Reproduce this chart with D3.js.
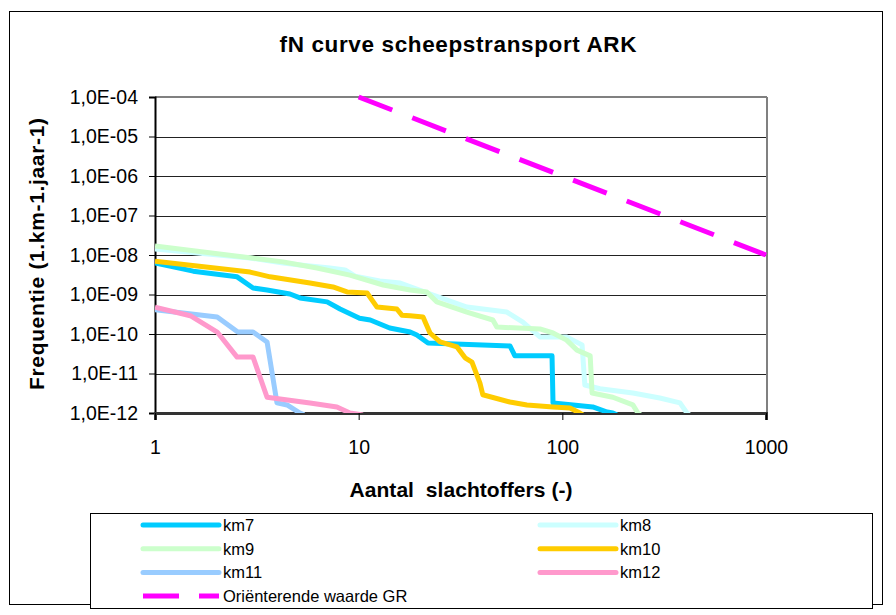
<!DOCTYPE html>
<html><head><meta charset="utf-8">
<script src="https://cdn.jsdelivr.net/npm/d3@7"></script>
<style>html,body{margin:0;padding:0;background:#fff}svg{display:block}text{font-family:Arial,"Liberation Sans",sans-serif;white-space:pre}</style>
</head><body>
<svg id="c" width="896" height="615"></svg>
<script>
const title = "fN curve scheepstransport ARK";
const xTitle = "Aantal  slachtoffers (-)";
const yTitle = "Frequentie (1.km-1.jaar-1)";
const xTicks = [1, 10, 100, 1000];
const yTicks = [1e-4, 1e-5, 1e-6, 1e-7, 1e-8, 1e-9, 1e-10, 1e-11, 1e-12];
const seriesNames = ["km7", "km8", "km9", "km10", "km11", "km12"];
const seriesColors = ["#00CCFF", "#CCFFFF", "#CCFFCC", "#FFCC00", "#99CCFF", "#FF99CC"];
const km7 = [[1,6.3e-9],[1.54,3.9e-9],[2.53,2.8e-9],[3.03,1.46e-9],[3.55,1.3e-9],[4.6,1.03e-9],[5.15,8.2e-10],[7.0,6.5e-10],[8.1,4.3e-10],[10.1,2.5e-10],[11.4,2.26e-10],[14.2,1.42e-10],[17.9,1.12e-10],[19.3,9.4e-11],[21.9,5.9e-11],[55.3,5.0e-11],[58.5,2.8e-11],[89,2.8e-11],[90,1.8e-12],[113,1.6e-12],[141,1.42e-12],[166,1.06e-12],[177,1e-12],[185,9e-13]];
const km8 = [[1,1.42e-8],[2.93,8.4e-9],[4.25,6.3e-9],[5.15,5.6e-9],[7.23,4.7e-9],[8.57,4.2e-9],[9.6,2.9e-9],[12.7,2.2e-9],[16,1.95e-9],[23.2,9.7e-10],[34,4.8e-10],[53.4,3.6e-10],[64,2.0e-10],[77.6,8.4e-11],[105,8.4e-11],[125,5.3e-11],[129,5.1e-12],[153,4.1e-12],[222,3.2e-12],[301,2.4e-12],[378,1.8e-12],[409,1e-12],[420,9e-13]];
const km9 = [[1,1.7e-8],[4.25,6.7e-9],[6.24,4.7e-9],[9.06,3.1e-9],[13.2,1.74e-9],[17.9,1.3e-9],[21.6,1.16e-9],[24.2,6.5e-10],[34,3.6e-10],[45.6,2.26e-10],[47.7,1.5e-10],[77.6,1.34e-10],[90,1.06e-10],[105,7e-11],[118,3.9e-11],[137,2.8e-11],[140,3.2e-12],[177,2.5e-12],[222,1.6e-12],[235,1e-12],[242,9e-13]];
const km10 = [[1,7.0e-9],[2.93,3.7e-9],[3.67,2.8e-9],[5.77,1.95e-9],[7.48,1.55e-9],[8.77,1.16e-9],[11,1.09e-9],[12.3,4.8e-10],[15.4,4.3e-10],[16.3,3.0e-10],[17.9,2.9e-10],[20.7,2.7e-10],[22.4,1.06e-10],[25.1,6.3e-11],[30.4,4.7e-11],[33.3,2.5e-11],[36,1.95e-11],[39.4,5.7e-12],[40.7,2.9e-12],[55.3,1.9e-12],[67,1.6e-12],[90,1.42e-12],[109,1.34e-12],[122,1e-12],[126,9e-13]];
const km11 = [[1,4.1e-10],[2.02,2.7e-10],[2.55,1.12e-10],[3.03,1.12e-10],[3.55,6.3e-11],[3.97,1.8e-12],[4.45,1.6e-12],[5.15,1e-12],[5.4,9e-13]];
const km12 = [[1,4.8e-10],[1.49,2.9e-10],[2.02,1.12e-10],[2.53,2.6e-11],[3.03,2.6e-11],[3.55,2.5e-12],[5.77,1.8e-12],[7.82,1.42e-12],[9.06,1e-12],[10.5,8.9e-13]];
const grName = "Oriënterende waarde GR";
const grColor = "#FF00FF";
const gr = [[10,1e-4],[1000,1e-8]];
const seriesData = [km7, km8, km9, km10, km11, km12];

const svg = d3.select("#c");
const L = 155, R = 766, T = 97, B = 413;
const x = d3.scaleLog().domain([1, 1000]).range([L, R]);
const y = d3.scaleLog().domain([1e-12, 1e-4]).range([B, T]);

// outer frame
svg.append("rect").attr("x", 9.5).attr("y", 11.5).attr("width", 873).attr("height", 593)
  .attr("fill", "#fff").attr("stroke", "#000").attr("stroke-width", 1);

// title
svg.append("text").attr("x", 458).attr("y", 52).attr("text-anchor", "middle")
  .attr("font-size", 22.5).attr("font-weight", "bold").attr("textLength", 357).attr("lengthAdjust", "spacing").text(title);

// gridlines
svg.append("g").selectAll("line").data(yTicks.slice(1, -1)).join("line")
  .attr("x1", L).attr("x2", R).attr("y1", d => Math.round(y(d)) + 0.5).attr("y2", d => Math.round(y(d)) + 0.5)
  .attr("stroke", "#222").attr("stroke-width", 1);

// plot border top/right
svg.append("line").attr("x1", L).attr("x2", R + 1).attr("y1", T).attr("y2", T).attr("stroke", "#808080").attr("stroke-width", 2);
svg.append("line").attr("x1", R + 1).attr("x2", R + 1).attr("y1", T).attr("y2", B).attr("stroke", "#808080").attr("stroke-width", 2);

// axes
const fmt = d => "1,0E-" + String(Math.round(-Math.log10(d))).padStart(2, "0");
const yAxis = svg.append("g").attr("transform", `translate(${L},0)`)
  .call(d3.axisLeft(y).tickValues(yTicks).tickFormat(fmt).tickSize(6).tickPadding(11));
yAxis.select(".domain").attr("stroke", "#000").attr("stroke-width", 2);
yAxis.selectAll(".tick line").attr("stroke", "#000");
yAxis.selectAll(".tick text").attr("font-size", 19.5).attr("fill", "#000")
  .attr("font-family", "Arial, 'Liberation Sans', sans-serif");

const xAxis = svg.append("g").attr("transform", `translate(0,${B})`)
  .call(d3.axisBottom(x).tickValues(xTicks).tickFormat(d3.format("d")).tickSize(7).tickPadding(20));
xAxis.select(".domain").attr("stroke", "#333").attr("stroke-width", 3);
xAxis.selectAll(".tick line").attr("stroke", "#000");
xAxis.selectAll(".tick text").attr("font-size", 19.5).attr("fill", "#000")
  .attr("font-family", "Arial, 'Liberation Sans', sans-serif");

// axis titles
svg.append("text").attr("x", 461).attr("y", 497).attr("text-anchor", "middle")
  .attr("font-size", 21).attr("font-weight", "bold").attr("textLength", 223).attr("lengthAdjust", "spacing").text(xTitle);
svg.append("text").attr("transform", "translate(44,254) rotate(-90)").attr("text-anchor", "middle")
  .attr("font-size", 21).attr("font-weight", "bold").attr("textLength", 272).attr("lengthAdjust", "spacing").text(yTitle);

// clip
svg.append("clipPath").attr("id", "clip").append("rect")
  .attr("x", L).attr("y", T - 3).attr("width", R - L + 4).attr("height", B - T + 3);

const line = d3.line().x(d => x(d[0])).y(d => y(d[1]));
const plot = svg.append("g").attr("clip-path", "url(#clip)");
seriesData.forEach((s, i) => {
  plot.append("path").datum(s).attr("d", line).attr("fill", "none")
    .attr("stroke", seriesColors[i]).attr("stroke-width", 5)
    .attr("stroke-linejoin", "round").attr("stroke-linecap", "butt");
});
plot.append("path").datum(gr).attr("d", line).attr("fill", "none")
  .attr("stroke", grColor).attr("stroke-width", 5).attr("stroke-dasharray", "36,21.5");

// legend
svg.append("rect").attr("x", 90.5).attr("y", 513.5).attr("width", 782).attr("height", 95)
  .attr("fill", "#fff").attr("stroke", "#000").attr("stroke-width", 1);
const legendItems = seriesNames.map((n, i) => ({name: n, color: seriesColors[i], dash: null}))
  .concat([{name: grName, color: grColor, dash: "36,20"}]);
const lg = svg.append("g").selectAll("g").data(legendItems).join("g")
  .attr("transform", (d, i) => `translate(${i % 2 === 0 || i === 6 ? 143 : 540},${525 + Math.floor(i / 2) * 23.7})`);
lg.append("line").attr("x1", 0).attr("x2", 76).attr("y1", 0).attr("y2", 0)
  .attr("stroke", d => d.color).attr("stroke-width", 5)
  .attr("stroke-linecap", d => d.dash ? "butt" : "round")
  .attr("stroke-dasharray", d => d.dash);
lg.append("text").attr("x", 80).attr("y", 6).attr("font-size", 16.5).text(d => d.name);
</script>
</body></html>
